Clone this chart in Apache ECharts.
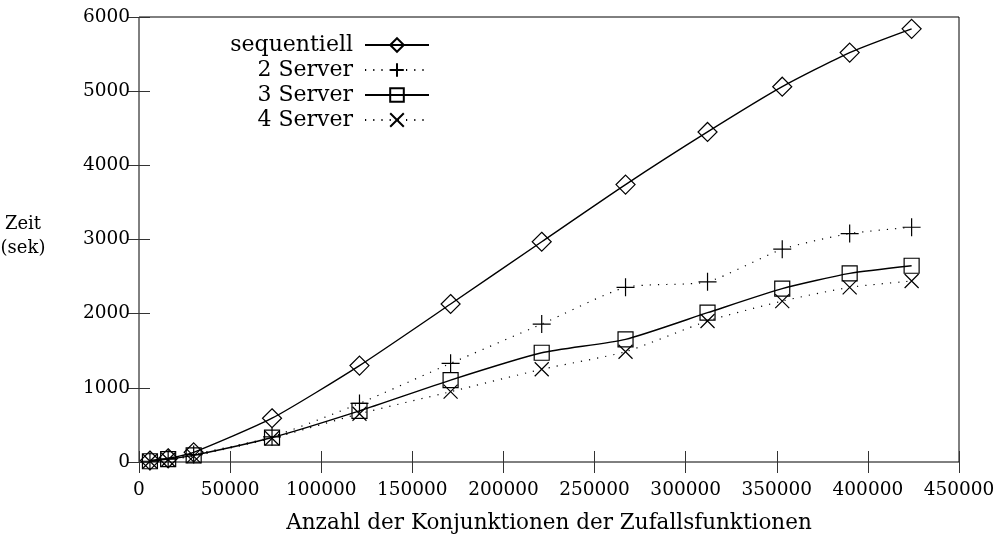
<!DOCTYPE html>
<html>
<head>
<meta charset="utf-8">
<script src="https://cdn.jsdelivr.net/npm/echarts@6/dist/echarts.min.js"></script>
<style>
html,body{margin:0;padding:0;background:#fff;}
#c{width:1000px;height:543px;}
</style>
</head>
<body>
<div id="c"></div>
<script>
const xValues = [6000, 16000, 30000, 73000, 121000, 171000, 221000, 267000, 312000, 353000, 390000, 424000];
const sequentiell = [20, 50, 130, 590, 1300, 2130, 2970, 3740, 4450, 5060, 5520, 5840];
const server2 = [10, 40, 100, 340, 790, 1330, 1860, 2355, 2430, 2870, 3080, 3165];
const server3 = [10, 40, 90, 330, 690, 1105, 1473, 1654, 2013, 2337, 2543, 2646];
const server4 = [10, 30, 80, 320, 650, 948, 1250, 1487, 1901, 2170, 2355, 2440];
const seriesNames = ['sequentiell', '2 Server', '3 Server', '4 Server'];
const xTitle = 'Anzahl der Konjunktionen der Zufallsfunktionen';
const yTitle = 'Zeit\n(sek)';

const FONT = 'DejaVu Serif';
const pair = arr => arr.map((v, i) => [xValues[i], v]);
const plusPath = 'path://M5,0L5,10M0,5L10,5';
const crossPath = 'path://M0,0L10,10M10,0L0,10';

function mk(name, data, symbol, size, dotted) {
  return {
    name, type: 'line', data: pair(data), smooth: 0.2,
    symbol, symbolSize: size, showSymbol: true,
    lineStyle: { color: '#000', width: dotted ? 1.2 : 1.4, type: dotted ? [1.2, 7] : 'solid' },
    itemStyle: { color: 'none', borderColor: '#000', borderWidth: 1.2 },
    emphasis: { disabled: true }, animation: false, z: 2
  };
}

const tickStyle = { show: true, inside: true, length: 11, lineStyle: { color: '#333', width: 1 } };
const plain = v => String(v);
const chart = echarts.init(document.getElementById('c'), null, { renderer: 'canvas' });
chart.setOption({
  animation: false,
  backgroundColor: '#fff',
  title: {
    text: yTitle, left: 23, top: 212, padding: 0,
    textAlign: 'center',
    textStyle: { fontFamily: FONT, fontSize: 18, fontWeight: 'normal', color: '#000', lineHeight: 24 }
  },
  grid: {
    left: 139, right: 41, top: 17, bottom: 81, show: true, borderColor: '#000', borderWidth: 1,
    containLabel: false, outerBoundsMode: 'none'
  },
  legend: {
    orient: 'vertical', align: 'right', right: 570, top: 34, padding: 0,
    itemWidth: 64, itemHeight: 17, itemGap: 3,
    textStyle: { fontFamily: FONT, fontSize: 22, lineHeight: 22, color: '#000', padding: [0, 7, 0, 0] },
    data: seriesNames
  },
  xAxis: [{
    type: 'value', min: 0, max: 450000, interval: 50000,
    axisLine: { show: false }, axisTick: tickStyle, splitLine: { show: false },
    axisLabel: { fontFamily: FONT, fontSize: 18.5, color: '#000', margin: 19, formatter: plain },
    name: xTitle, nameLocation: 'middle', nameGap: 50,
    nameTextStyle: { fontFamily: FONT, fontSize: 21.5, color: '#000' }
  }, {
    type: 'value', position: 'top', min: 0, max: 450000, interval: 50000,
    axisLine: { show: false }, axisTick: tickStyle, splitLine: { show: false }, axisLabel: { show: false }
  }],
  yAxis: [{
    type: 'value', min: 0, max: 6000, interval: 1000,
    axisLine: { show: false }, axisTick: tickStyle, splitLine: { show: false },
    axisLabel: { fontFamily: FONT, fontSize: 18.5, color: '#000', margin: 9, formatter: plain }
  }, {
    type: 'value', position: 'right', min: 0, max: 6000, interval: 1000,
    axisLine: { show: false }, axisTick: tickStyle, splitLine: { show: false }, axisLabel: { show: false }
  }],
  series: [
    mk(seriesNames[0], sequentiell, 'diamond', 19, false),
    mk(seriesNames[1], server2, plusPath, 18, true),
    mk(seriesNames[2], server3, 'rect', 15, false),
    mk(seriesNames[3], server4, crossPath, 14, true)
  ]
});
</script>
</body>
</html>
